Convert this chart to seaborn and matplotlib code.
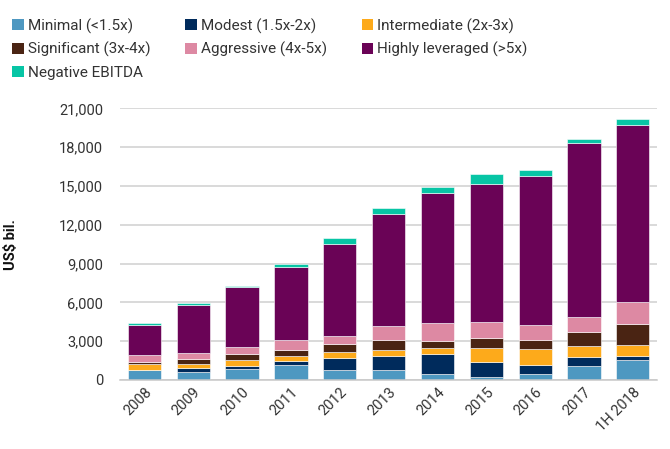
import matplotlib
matplotlib.use("Agg")
import matplotlib.pyplot as plt
import seaborn as sns
import numpy as np
from matplotlib.patches import Patch
from matplotlib.ticker import FuncFormatter

years = ["2008", "2009", "2010", "2011", "2012", "2013", "2014", "2015", "2016", "2017", "1H 2018"]
minimal = [750, 645, 880, 1190, 750, 800, 490, 260, 440, 1110, 1575]
modest = [50, 310, 230, 310, 980, 1080, 1500, 1110, 720, 670, 310]
intermediate = [400, 285, 420, 340, 420, 440, 490, 1085, 1210, 825, 800]
significant = [180, 365, 490, 510, 620, 775, 565, 825, 750, 1135, 1625]
aggressive = [520, 490, 565, 755, 645, 1110, 1395, 1185, 1110, 1110, 1755]
highly = [2350, 3670, 4605, 5610, 7060, 8620, 10010, 10680, 11530, 13500, 13670]
negative = [160, 185, 105, 285, 465, 465, 490, 775, 490, 280, 465]

series_names = ["Minimal (<1.5x)", "Modest (1.5x-2x)", "Intermediate (2x-3x)",
                "Significant (3x-4x)", "Aggressive (4x-5x)", "Highly leveraged (>5x)",
                "Negative EBITDA"]
series_vals = [minimal, modest, intermediate, significant, aggressive, highly, negative]
colors = ["#4e98c1", "#002b5c", "#fdaa1b", "#4a2413", "#dd89a3", "#6a0356", "#07c5a5"]

sns.set_theme(style="white")
plt.rcParams["font.family"] = ["Roboto", "DejaVu Sans"]

fig = plt.figure(figsize=(6.7, 4.49), dpi=100)
ax = fig.add_axes([0.179, 0.1537, 0.802, 0.605])

bottom = np.zeros(len(years))
for name, vals, c in zip(series_names, series_vals, colors):
    sns.barplot(x=years, y=vals, bottom=bottom, color=c, width=0.68, ax=ax,
                edgecolor="white", linewidth=0.4, saturation=1)
    bottom = bottom + np.array(vals)

ax.set_ylim(0, 21000)
ax.set_xlim(-0.5, len(years) - 0.5)
ax.set_yticks(np.arange(0, 21001, 3000))
ax.yaxis.set_major_formatter(FuncFormatter(lambda v, p: f"{int(v):,}"))
ax.yaxis.grid(True, color="#d0d0d0", linewidth=1.1)
ax.set_axisbelow(True)
for s in ["top", "right", "left"]:
    ax.spines[s].set_visible(False)
ax.spines["bottom"].set_color("#c8c8c8")
ax.spines["bottom"].set_linewidth(1.1)
ax.tick_params(axis="both", length=0, labelsize=10.5, colors="#333333")
ax.tick_params(axis="y", pad=12)
plt.setp(ax.get_xticklabels(), rotation=45, ha="right", rotation_mode="anchor")
ax.set_xlabel("")
ax.set_ylabel("US$ bil.", fontsize=10.5, fontweight="bold", color="#111111")
ax.yaxis.set_label_coords(-0.19, 0.5)

# legend filled row-wise (matplotlib fills column-wise, so reorder)
order = [0, 3, 6, 1, 4, 2, 5]
handles = [Patch(facecolor=colors[i], edgecolor="none") for i in order]
labels = [series_names[i] for i in order]
fig.legend(handles, labels, loc="upper left", bbox_to_anchor=(-0.002, 0.99),
           ncol=3, frameon=False, fontsize=11, handlelength=0.75, handleheight=0.75,
           handletextpad=0.25, columnspacing=2.3, labelspacing=0.55,
           labelcolor="#333333")

fig.savefig("out.png", dpi=100)
